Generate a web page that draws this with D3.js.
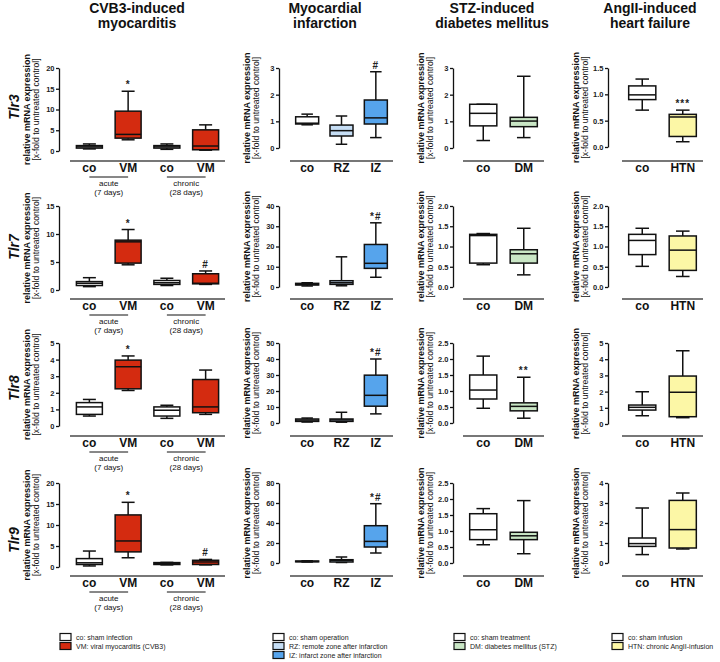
<!DOCTYPE html>
<html><head><meta charset="utf-8">
<script src="https://cdn.jsdelivr.net/npm/d3@7"></script>
<style>
body{margin:0;background:#fff;}
svg{display:block;font-family:"Liberation Sans",Arial,sans-serif;}
</style></head>
<body>
<svg id="chart" width="720" height="662"></svg>
<script>
// ---------------- DATA ----------------
const columnTitles = [["CVB3-induced","myocarditis"],["Myocardial","infarction"],["STZ-induced","diabetes mellitus"],["AngII-induced","heart failure"]];
const rowGenes = ["Tlr3","Tlr7","Tlr8","Tlr9"];
const catsCVB3 = ["co","VM","co","VM"];
const catsMI = ["co","RZ","IZ"];
const catsSTZ = ["co","DM"];
const catsAng = ["co","HTN"];
const groupsCVB3 = [["acute","(7 days)"],["chronic","(28 days)"]];

const ticksCVB3 = [[0,5,10,15,20],[0,5,10,15],[0,1,2,3,4,5],[0,5,10,15,20]];
const ticksMI   = [[0,1,2,3],[0,10,20,30,40],[0,10,20,30,40,50],[0,20,40,60,80]];
const ticksSTZ  = [[0,1,2,3],[0,0.5,1,1.5,2],[0,0.5,1,1.5,2,2.5],[0,0.5,1,1.5,2,2.5]];
const ticksAng  = [[0,0.5,1,1.5],[0,0.5,1,1.5,2],[0,1,2,3,4,5],[0,1,2,3,4]];

// box stats: [min, q1, median, q3, max] per category, one array per row
const boxCVB3 = [
  [[0.5,0.7,1.0,1.3,1.7],[2.7,3.1,4.0,9.6,14.4],[0.4,0.7,1.0,1.3,1.7],[0.2,0.3,1.2,5.1,6.3]],
  [[0.6,0.8,1.2,1.5,2.2],[4.5,4.8,8.6,8.9,10.8],[0.8,1.0,1.3,1.7,2.1],[1.0,1.1,1.2,2.9,3.4]],
  [[0.6,0.7,1.15,1.41,1.6],[2.14,2.24,3.57,3.97,4.22],[0.46,0.6,0.95,1.15,1.25],[0.7,0.8,1.15,2.8,3.37]],
  [[0.25,0.6,1.0,2.0,3.8],[2.2,3.6,6.2,12.4,15.4],[0.5,0.6,0.8,1.05,1.1],[0.5,0.6,1.2,1.6,1.8]]
];
const boxMI = [
  [[0.87,0.9,0.93,1.17,1.27],[0.14,0.45,0.65,0.86,1.2],[0.39,0.9,1.13,1.8,2.86]],
  [[0.5,1.0,1.2,1.8,2.1],[0.6,1.3,2.1,3.1,14.9],[4.8,9.2,11.7,21,31.7]],
  [[0.6,1.0,1.8,2.5,3.1],[0.5,1.0,1.9,2.5,6.7],[5.7,10.5,17.3,29.9,40]],
  [[1.0,1.2,1.5,2.0,2.2],[0.5,1.0,2.5,3.3,6],[10,16,21.6,37.3,59.3]]
];
const boxSTZ = [
  [[0.28,0.83,1.3,1.64,1.64],[0.39,0.8,1.01,1.15,2.69]],
  [[0.55,0.59,1.27,1.3,1.32],[0.3,0.59,0.82,0.92,1.45]],
  [[0.46,0.75,1.03,1.5,2.09],[0.15,0.38,0.52,0.63,1.43]],
  [[0.57,0.73,1.04,1.54,1.7],[0.29,0.73,0.85,0.96,1.95]]
];
const boxAng = [
  [[0.7,0.9,0.99,1.16,1.29],[0.1,0.2,0.57,0.62,0.7]],
  [[0.51,0.8,1.15,1.3,1.45],[0.26,0.41,0.91,1.26,1.38]],
  [[0.51,0.86,1.03,1.17,1.99],[0.39,0.45,1.96,2.96,4.52]],
  [[0.42,0.83,0.97,1.25,2.75],[0.7,0.75,1.67,3.13,3.5]]
];
const sigCVB3 = [["","*","",""],["","*","","#"],["","*","",""],["","*","","#"]];
const sigMI   = [["","","#"],["","","*#"],["","","*#"],["","","*#"]];
const sigSTZ  = [["",""],["",""],["","**"],["",""]];
const sigAng  = [["","***"],["",""],["",""],["",""]];

const legendCVB3 = ["co: sham infection","VM: viral myocarditis (CVB3)"];
const legendMI   = ["co: sham operation","RZ: remote zone after infarction","IZ: infarct zone after infarction"];
const legendSTZ  = ["co: sham treatment","DM: diabetes mellitus (STZ)"];
const legendAng  = ["co: sham infusion","HTN: chronic AngII-infusion"];

// ---------------- STYLE / LAYOUT ----------------
const RED="#d42b10", LBLUE="#c6def5", BLUE="#56a4ec", GREEN="#c9e6c5", YELLOW="#fcf7a6", WHITE="#ffffff";
const columns = [
  {cats:catsCVB3, ticks:ticksCVB3, box:boxCVB3, sig:sigCVB3, legend:legendCVB3, fills:[WHITE,RED,WHITE,RED],
   axisX:59, xl:70, xr:225, zeros:[151,290,426,567], titleX:137, legX:60},
  {cats:catsMI, ticks:ticksMI, box:boxMI, sig:sigMI, legend:legendMI, fills:[WHITE,LBLUE,BLUE],
   axisX:279, xl:290, xr:393, zeros:[148,287,423,563], titleX:325, legX:273},
  {cats:catsSTZ, ticks:ticksSTZ, box:boxSTZ, sig:sigSTZ, legend:legendSTZ, fills:[WHITE,GREEN],
   axisX:453, xl:463, xr:544, zeros:[148,287,423,563], titleX:492, legX:454},
  {cats:catsAng, ticks:ticksAng, box:boxAng, sig:sigAng, legend:legendAng, fills:[WHITE,YELLOW],
   axisX:608, xl:622, xr:703, zeros:[147,287,424,563], titleX:650, legX:612}
];
const rowTops = [68,206,343,483];
const rowAxisY = [161,299,436,576];
const geneY = [107,247,388,540];

const svg = d3.select("#chart");

// column titles
columns.forEach((c,ci)=>{
  const t = svg.append("text").attr("x",c.titleX).attr("text-anchor","middle")
    .attr("font-size",14).attr("font-weight","bold").attr("fill","#111");
  t.append("tspan").attr("x",c.titleX).attr("y",13).text(columnTitles[ci][0]);
  t.append("tspan").attr("x",c.titleX).attr("y",28).text(columnTitles[ci][1]);
});

// gene row labels
rowGenes.forEach((g,ri)=>{
  svg.append("text").attr("transform",`translate(19,${geneY[ri]}) rotate(-90)`)
    .attr("text-anchor","middle").attr("font-size",14).attr("font-weight","bold")
    .attr("font-style","italic").attr("fill","#111").text(g);
});

rowGenes.forEach((g,ri)=>{
  columns.forEach((c,ci)=>{
    const ticks = c.ticks[ri];
    const y = d3.scaleLinear().domain([0,d3.max(ticks)]).range([c.zeros[ri], rowTops[ri]]);
    const x = d3.scaleBand().domain(d3.range(c.cats.length)).range([c.xl,c.xr]).paddingInner(0.33).paddingOuter(0.165);
    const g0 = svg.append("g");
    const fmt = ticks.some(v=>v%1!==0) ? d3.format(".1f") : d3.format("d");
    const ax = g0.append("g").attr("transform",`translate(${c.axisX},0)`)
      .call(d3.axisLeft(y).tickValues(ticks).tickSize(3).tickSizeOuter(0).tickPadding(1.5).tickFormat(fmt));
    ax.select(".domain").attr("stroke","#111").attr("stroke-width",1.3);
    ax.selectAll(".tick line").attr("stroke","#111").attr("stroke-width",1.3);
    ax.selectAll(".tick text").attr("font-size",7.5).attr("font-weight","bold").attr("fill","#222")
      .attr("font-family","Liberation Sans, Arial, sans-serif");

    // y labels
    const midY = (c.zeros[ri]+rowTops[ri])/2;
    g0.append("text").attr("transform",`translate(${c.axisX-29},${midY}) rotate(-90)`)
      .attr("text-anchor","middle").attr("font-size",9).attr("font-weight","bold").attr("fill","#111")
      .text("relative mRNA expression");
    g0.append("text").attr("transform",`translate(${c.axisX-20},${midY}) rotate(-90)`)
      .attr("text-anchor","middle").attr("font-size",8.6).attr("fill","#111")
      .text("[x-fold to untreated control]");

    // x axis line
    g0.append("line").attr("x1",c.xl).attr("x2",c.xr).attr("y1",rowAxisY[ri]).attr("y2",rowAxisY[ri])
      .attr("stroke","#777").attr("stroke-width",1.8);
    // category labels
    c.cats.forEach((cat,k)=>{
      g0.append("text").attr("x",x(k)+x.bandwidth()/2).attr("y",rowAxisY[ri]+11)
        .attr("text-anchor","middle").attr("font-size",12).attr("font-weight","bold").attr("fill","#111").text(cat);
    });

    // boxes
    const bw = x.bandwidth();
    c.box[ri].forEach((s,k)=>{
      const cx = x(k)+bw/2;
      const [mn,q1,md,q3,mx] = s;
      const bg = g0.append("g").attr("stroke","#111").attr("stroke-width",1.5);
      bg.append("line").attr("x1",cx).attr("x2",cx).attr("y1",y(mx)).attr("y2",y(q3));
      bg.append("line").attr("x1",cx).attr("x2",cx).attr("y1",y(q1)).attr("y2",y(mn));
      bg.append("line").attr("x1",cx-bw/4).attr("x2",cx+bw/4).attr("y1",y(mx)).attr("y2",y(mx));
      bg.append("line").attr("x1",cx-bw/4).attr("x2",cx+bw/4).attr("y1",y(mn)).attr("y2",y(mn));
      bg.append("rect").attr("x",x(k)).attr("width",bw).attr("y",y(q3)).attr("height",Math.max(0.5,y(q1)-y(q3)))
        .attr("fill",c.fills[k]);
      bg.append("line").attr("x1",x(k)).attr("x2",x(k)+bw).attr("y1",y(md)).attr("y2",y(md));
      const sg = c.sig[ri][k];
      if(sg){
        g0.append("text").attr("x",cx).attr("y",y(mx)-3).attr("text-anchor","middle")
          .attr("font-size",10).attr("font-weight","bold").attr("fill","#222").attr("letter-spacing",1).text(sg);
      }
    });

    // group labels (CVB3)
    if(ci===0){
      groupsCVB3.forEach((gr,gi)=>{
        const a = x(gi*2)+bw/2, b = x(gi*2+1)+bw/2;
        const ly = rowAxisY[ri]+16;
        g0.append("line").attr("x1",a).attr("x2",b).attr("y1",ly).attr("y2",ly).attr("stroke","#111").attr("stroke-width",1);
        g0.append("text").attr("x",(a+b)/2).attr("y",ly+9).attr("text-anchor","middle").attr("font-size",8).attr("fill","#111").text(gr[0]);
        g0.append("text").attr("x",(a+b)/2).attr("y",ly+18).attr("text-anchor","middle").attr("font-size",8).attr("fill","#111").text(gr[1]);
      });
    }
  });
});

// legend
const legRowY = [637,646,655];
columns.forEach((c,ci)=>{
  const fills = ci===0 ? [WHITE,RED] : c.fills;
  c.legend.forEach((lab,k)=>{
    svg.append("rect").attr("x",c.legX).attr("y",legRowY[k]-3.5).attr("width",11).attr("height",7)
      .attr("fill",fills[k]).attr("stroke","#111").attr("stroke-width",1.2);
    svg.append("text").attr("x",c.legX+16).attr("y",legRowY[k]+2.5).attr("font-size",7).attr("fill","#222").text(lab);
  });
});
</script>
</body></html>
